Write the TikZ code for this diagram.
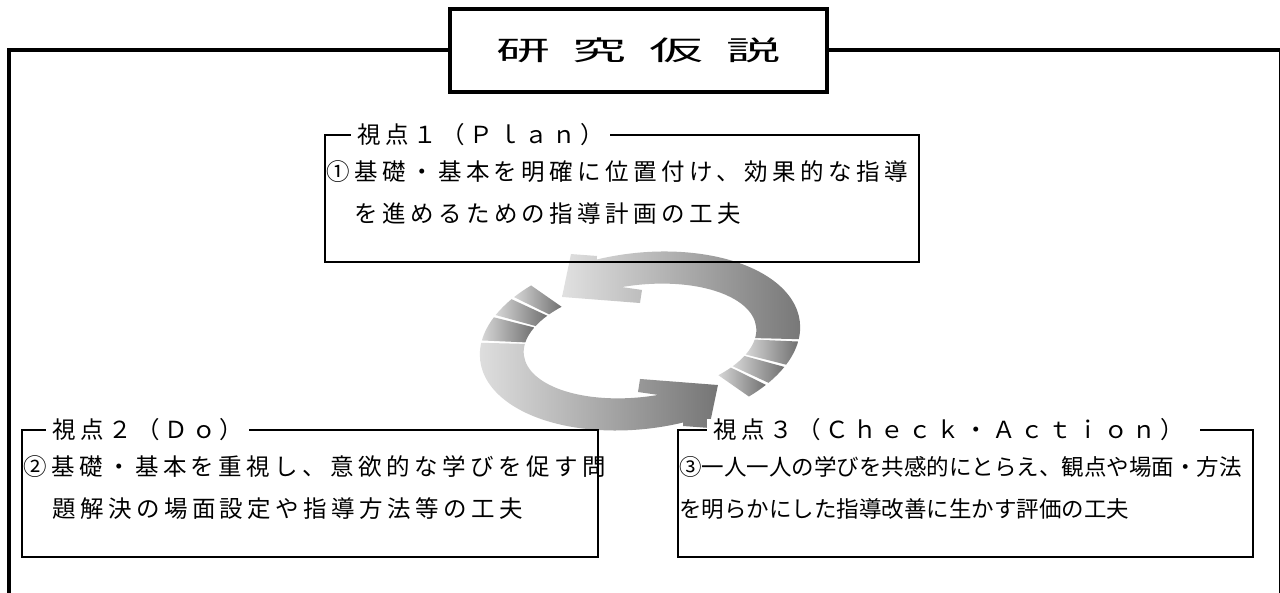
\documentclass[tikz,border=0pt]{standalone}
\usepackage{fontspec}
\usepackage{graphicx}
\newfontfamily\jp{Noto Sans CJK JP}
\newfontfamily\jpw{Noto Sans CJK JP}[LetterSpace=19]
\begin{document}
\begin{tikzpicture}[x=1pt,y=1pt,line join=miter,
  frame/.style={line width=4pt},
  boxline/.style={line width=2.5pt},
  lbl/.style={fill=white,inner xsep=6pt,inner ysep=0pt,anchor=west,font=\jpw\fontsize{23.5}{23.5}\selectfont},
  txt/.style={inner sep=0pt,anchor=west,font=\jpw\fontsize{23.5}{23.5}\selectfont},
  txtc/.style={inner sep=0pt,anchor=west,font=\jp\fontsize{22.5}{22.5}\selectfont},
  armfill/.style={left color=black!12,right color=black!54,draw=none},
  stripfill/.style={left color=black!16,right color=black!56,draw=none}]
\useasboundingbox (0,0) rectangle (1280,593);
\fill[white] (0,0) rectangle (1280,593);

% circular arrows
\begin{scope}[shift={(640,252)},rotate=7]
  \path[armfill] (-11.5:161 and 88) arc[start angle=-11.5,end angle=101.8,x radius=161,y radius=88]
     -- (-32.3,89.6) -- (-57.9,94.7) -- (-72,53.2) -- (4.6,37.7) -- (8.2,50.4) -- (95.6:117 and 56)
     arc[start angle=95.6,end angle=-11.5,x radius=117,y radius=56] -- cycle;
  \path[armfill] (168.5:161 and 88) arc[start angle=168.5,end angle=281.8,x radius=161,y radius=88]
     -- (32.3,-89.6) -- (57.9,-94.7) -- (72,-53.2) -- (-4.6,-37.7) -- (-8.2,-50.4) -- (275.6:117 and 56)
     arc[start angle=275.6,end angle=168.5,x radius=117,y radius=56] -- cycle;
  \foreach \a/\b in {-13/-28,-29.5/-40.5,-42/-51,167/152,150.5/139.5,138/129}
    \path[stripfill] (\a:161 and 88) arc[start angle=\a,end angle=\b,x radius=161,y radius=88]
       -- (\b:117 and 56) arc[start angle=\b,end angle=\a,x radius=117,y radius=56] -- cycle;
\end{scope}

% outer frame and title
\draw[frame] (450,543) -- (9,543) -- (9,-5);
\draw[frame] (827,543) -- (1281,543) -- (1281,-5);
\draw[frame,fill=white] (450,584) rectangle (827,501);
\node (title) at (638.5,542.5) {\scalebox{2}[1]{\jp\fontsize{27}{27}\selectfont 研\hspace{11.5pt}究\hspace{11.5pt}仮\hspace{11.5pt}説}};

% box 1
\draw[boxline] (325,458) rectangle (919,331);
\node[lbl] (l1) at (351,458) {視点１（Ｐｌａｎ）};
\node[txt] (t1a) at (326,421) {①基礎・基本を明確に位置付け、効果的な指導};
\node[txt] (t1b) at (354,379) {を進めるための指導計画の工夫};

% box 2
\draw[boxline] (22,163) rectangle (598,36);
\node[lbl] (l2) at (46,163) {視点２（Ｄｏ）};
\node[txt] (t2a) at (23,126) {②基礎・基本を重視し、意欲的な学びを促す問};
\node[txt] (t2b) at (52,84) {題解決の場面設定や指導方法等の工夫};

% box 3
\draw[boxline] (678,163) rectangle (1253,36);
\node[lbl] (l3) at (707,163) {視点３（Ｃｈｅｃｋ・Ａｃｔｉｏｎ）\hspace*{10pt}};
\node[txtc] (t3a) at (679,126) {③一人一人の学びを共感的にとらえ、観点や場面・方法};
\node[txtc] (t3b) at (679,84) {を明らかにした指導改善に生かす評価の工夫};
\end{tikzpicture}
\end{document}
